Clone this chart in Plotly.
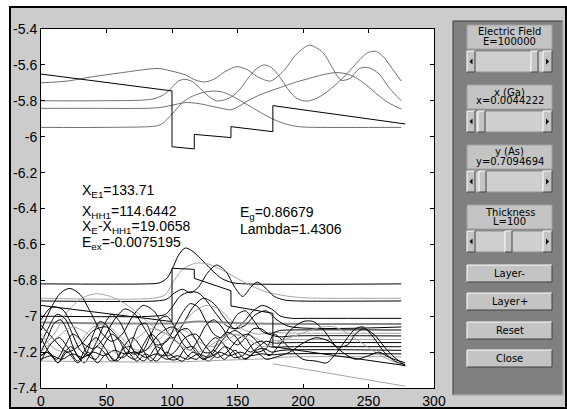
import plotly.graph_objects as go

# ---------------- data ----------------
x_ticks = [0, 50, 100, 150, 200, 250, 300]
x_tick_text = ["0", "50", "100", "150", "200", "250", "300"]
y_ticks = [-7.4, -7.2, -7.0, -6.8, -6.6, -6.4, -6.2, -6.0, -5.8, -5.6, -5.4]
y_tick_text = ["-7.4", "-7.2", "-7", "-6.8", "-6.6", "-6.4", "-6.2", "-6", "-5.8", "-5.6", "-5.4"]

# conduction band potential
cb_x = [0, 100, 100, 117, 117, 145, 145, 177, 177, 278]
cb_y = [-5.651, -5.745, -6.056, -6.068, -5.987, -6.005, -5.944, -5.972, -5.827, -5.929]

# electron wavefunctions (gray)
eA_x = [0, 20, 40, 60, 80, 90, 100, 110, 118, 125, 132, 140, 149, 157, 165, 175, 185, 195, 205, 215, 222, 229, 236, 243, 250, 258, 266, 275]
eA_y = [-5.70, -5.69, -5.665, -5.645, -5.625, -5.62, -5.635, -5.655, -5.685, -5.695, -5.68, -5.64, -5.61, -5.625, -5.665, -5.69, -5.635, -5.54, -5.49, -5.53, -5.61, -5.685, -5.675, -5.62, -5.615, -5.65, -5.73, -5.80]
eB_x = [0, 40, 80, 88, 95, 100, 105, 110, 116, 122, 128, 134, 140, 146, 152, 158, 164, 170, 176, 182, 188, 194, 200, 205, 212, 220, 228, 236, 244, 250, 256, 262, 268, 275]
eB_y = [-5.80, -5.80, -5.795, -5.785, -5.76, -5.725, -5.69, -5.68, -5.695, -5.735, -5.775, -5.80, -5.795, -5.775, -5.735, -5.675, -5.625, -5.60, -5.615, -5.665, -5.73, -5.78, -5.80, -5.80, -5.78, -5.74, -5.69, -5.63, -5.565, -5.53, -5.525, -5.56, -5.62, -5.69]
eC_x = [0, 40, 80, 90, 100, 110, 120, 130, 140, 145, 150, 158, 166, 175, 185, 195, 205, 215, 225, 232, 240, 248, 256, 265, 275]
eC_y = [-5.842, -5.842, -5.842, -5.838, -5.825, -5.81, -5.815, -5.83, -5.845, -5.85, -5.835, -5.80, -5.77, -5.745, -5.72, -5.695, -5.675, -5.655, -5.643, -5.648, -5.67, -5.71, -5.76, -5.81, -5.846]
eD_x = [0, 50, 88, 93, 98, 103, 108, 114, 120, 126, 132, 138, 144, 150, 156, 163, 170, 178, 185, 193, 200, 210, 275]
eD_y = [-5.948, -5.948, -5.94, -5.925, -5.89, -5.85, -5.81, -5.78, -5.762, -5.75, -5.746, -5.75, -5.767, -5.79, -5.815, -5.845, -5.875, -5.905, -5.925, -5.94, -5.946, -5.948, -5.948]

# valence band potentials
hh_x = [0, 100, 100, 117, 117, 145, 145, 177, 177, 278]
hh_y = [-6.94, -7.03, -6.733, -6.739, -6.789, -6.858, -6.943, -6.984, -7.17, -7.275]
lh_x = [177, 278]
lh_y = [-7.265, -7.39]

# hole wavefunctions
w1_x = [0, 80, 90, 96, 100, 105, 110, 115, 122, 130, 138, 146, 156, 275]
w1_y = [-6.82, -6.82, -6.815, -6.79, -6.74, -6.66, -6.62, -6.635, -6.68, -6.74, -6.79, -6.813, -6.82, -6.82]
w2_x = [0, 85, 95, 100, 108, 118, 128, 140, 155, 170, 185, 200, 215, 275]
w2_y = [-6.90, -6.90, -6.88, -6.82, -6.74, -6.705, -6.71, -6.75, -6.81, -6.86, -6.885, -6.897, -6.90, -6.90]
w3_x = [0, 88, 96, 102, 108, 114, 120, 127, 134, 141, 148, 154, 160, 165, 171, 178, 186, 195, 275]
w3_y = [-6.915, -6.915, -6.905, -6.87, -6.85, -6.87, -6.84, -6.76, -6.715, -6.75, -6.84, -6.89, -6.84, -6.81, -6.84, -6.89, -6.91, -6.915, -6.915]
w4_x = [0, 85, 95, 100, 106, 113, 120, 127, 134, 141, 148, 155, 162, 169, 176, 183, 192, 200, 275]
w4_y = [-7.0, -7.0, -6.99, -6.95, -6.89, -6.865, -6.87, -6.92, -6.99, -7.05, -7.07, -7.03, -6.97, -6.94, -6.96, -7.0, -7.012, -7.012, -7.012]
w5_x = [0, 100, 120, 140, 160, 275]
w5_y = [-7.035, -7.04, -7.03, -7.035, -7.04, -7.043]
w6_x = [0, 8, 15, 22, 30, 38, 46, 54, 62, 70, 78, 86, 94, 101, 108, 116, 124, 132, 140, 148, 156, 164, 172, 180, 190, 275]
w6_y = [-7.08, -6.95, -6.87, -6.845, -6.88, -6.98, -7.09, -7.14, -7.10, -7.0, -6.94, -6.97, -7.06, -7.12, -7.05, -6.95, -6.90, -6.93, -7.01, -7.07, -7.05, -6.99, -6.97, -7.02, -7.058, -7.06]
w7_x = [0, 10, 20, 31, 42, 53, 64, 75, 86, 97, 106, 116, 126, 136, 146, 156, 166, 176, 186, 198, 210, 275]
w7_y = [-7.18, -7.1, -6.975, -6.9, -6.875, -6.89, -6.93, -6.99, -7.06, -7.1, -7.06, -6.98, -6.94, -6.96, -7.03, -7.08, -7.10, -7.09, -7.093, -7.095, -7.095, -7.095]
w8_x = [0, 8, 16, 24, 32, 40, 48, 56, 64, 72, 80, 88, 96, 102, 108, 114, 120, 126, 132, 138, 144, 150, 156, 162, 168, 174, 182, 190, 275]
w8_y = [-7.02, -6.95, -6.96, -7.05, -7.15, -7.18, -7.12, -7.02, -6.96, -6.99, -7.08, -7.16, -7.14, -7.06, -6.98, -6.93, -6.95, -7.03, -7.1, -7.12, -7.06, -6.99, -6.97, -7.02, -7.08, -7.1, -7.08, -7.077, -7.077]
w9_x = [0, 6, 12, 18, 24, 30, 36, 42, 48, 54, 60, 66, 72, 78, 84, 90, 96, 102, 108, 114, 120, 126, 132, 138, 144, 150, 156, 162, 168, 174, 182, 192, 275]
w9_y = [-7.15, -7.06, -6.99, -7.01, -7.1, -7.19, -7.22, -7.15, -7.05, -6.99, -7.03, -7.12, -7.2, -7.19, -7.1, -7.02, -7.0, -7.06, -7.15, -7.19, -7.13, -7.05, -7.02, -7.06, -7.13, -7.16, -7.12, -7.07, -7.07, -7.1, -7.115, -7.11, -7.11]
w10_x = [0, 10, 20, 30, 40, 50, 60, 70, 80, 90, 100, 110, 120, 130, 140, 150, 160, 170, 180, 190, 200, 275]
w10_y = [-7.1, -7.18, -7.2, -7.14, -7.06, -7.05, -7.11, -7.18, -7.19, -7.13, -7.07, -7.08, -7.14, -7.17, -7.14, -7.1, -7.11, -7.14, -7.135, -7.13, -7.13, -7.13]
w11_x = [0, 5, 10, 15, 20, 25, 30, 35, 40, 45, 50, 55, 60, 65, 70, 75, 80, 85, 90, 95, 100, 106, 112, 118, 124, 130, 136, 142, 148, 154, 160, 166, 172, 178, 186, 195, 275]
w11_y = [-7.2, -7.12, -7.04, -7.02, -7.08, -7.18, -7.24, -7.2, -7.1, -7.03, -7.05, -7.14, -7.23, -7.22, -7.13, -7.05, -7.04, -7.12, -7.21, -7.22, -7.15, -7.08, -7.07, -7.13, -7.2, -7.2, -7.13, -7.09, -7.11, -7.17, -7.2, -7.17, -7.14, -7.15, -7.148, -7.147, -7.147]
w12_x = [0, 7, 14, 21, 28, 35, 42, 49, 56, 63, 70, 77, 84, 91, 98, 105, 112, 119, 126, 133, 140, 147, 154, 161, 168, 175, 182, 190, 275]
w12_y = [-7.25, -7.16, -7.12, -7.18, -7.25, -7.17, -7.12, -7.18, -7.25, -7.17, -7.12, -7.18, -7.25, -7.18, -7.12, -7.15, -7.22, -7.24, -7.17, -7.12, -7.16, -7.23, -7.22, -7.16, -7.14, -7.17, -7.172, -7.17, -7.17]
w13_x = [0, 4, 9, 13, 18, 23, 28, 33, 38, 43, 48, 53, 58, 63, 68, 73, 78, 83, 88, 93, 98, 104, 110, 116, 122, 128, 134, 140, 146, 152, 158, 164, 170, 176, 184, 275]
w13_y = [-7.22, -7.2, -7.23, -7.26, -7.2, -7.17, -7.22, -7.26, -7.21, -7.17, -7.2, -7.25, -7.24, -7.18, -7.17, -7.22, -7.25, -7.22, -7.17, -7.19, -7.24, -7.24, -7.18, -7.17, -7.22, -7.25, -7.21, -7.17, -7.19, -7.24, -7.23, -7.19, -7.18, -7.2, -7.19, -7.19]
w14_x = [0, 8, 16, 24, 32, 40, 48, 56, 64, 72, 80, 88, 96, 104, 112, 120, 128, 136, 144, 152, 160, 168, 176, 186, 275]
w14_y = [-7.24, -7.22, -7.24, -7.21, -7.23, -7.2, -7.22, -7.19, -7.21, -7.2, -7.23, -7.21, -7.24, -7.22, -7.24, -7.21, -7.23, -7.2, -7.22, -7.2, -7.22, -7.21, -7.215, -7.21, -7.21]
w15_x = [0, 100, 140, 177, 185, 275]
w15_y = [-7.25, -7.255, -7.245, -7.235, -7.228, -7.226]
r1_x = [0, 6, 12, 18, 24, 30, 36, 42, 48, 54, 60, 66, 72, 78, 84, 90, 96, 102, 110, 118, 126, 134, 142, 150, 158, 166, 174, 182, 190, 200, 208, 216, 226, 234, 240, 246, 254, 262, 270, 278]
r1_y = [-7.12, -7.2, -7.24, -7.17, -7.1, -7.13, -7.22, -7.24, -7.16, -7.1, -7.14, -7.22, -7.24, -7.16, -7.1, -7.14, -7.22, -7.2, -7.12, -7.1, -7.17, -7.23, -7.2, -7.13, -7.1, -7.15, -7.22, -7.16, -7.08, -7.03, -7.03, -7.08, -7.17, -7.16, -7.1, -7.07, -7.1, -7.17, -7.23, -7.275]
r2_x = [0, 10, 20, 30, 40, 50, 60, 70, 80, 90, 100, 108, 116, 124, 132, 140, 148, 156, 164, 172, 178, 190, 200, 210, 218, 226, 234, 240, 246, 254, 262, 270, 278]
r2_y = [-7.05, -7.13, -7.2, -7.16, -7.08, -7.06, -7.13, -7.21, -7.19, -7.1, -7.06, -7.1, -7.18, -7.24, -7.2, -7.12, -7.08, -7.12, -7.2, -7.18, -7.1, -7.18, -7.24, -7.25, -7.26, -7.2, -7.12, -7.07, -7.06, -7.12, -7.2, -7.25, -7.27]
r3_x = [0, 12, 24, 36, 48, 60, 72, 84, 96, 108, 120, 132, 144, 156, 168, 178, 190, 205, 215, 224, 235, 245, 255, 265, 278]
r3_y = [-7.2, -7.12, -7.06, -7.1, -7.18, -7.2, -7.13, -7.07, -7.1, -7.17, -7.2, -7.15, -7.1, -7.12, -7.17, -7.15, -7.12, -7.08, -7.06, -7.06, -7.1, -7.15, -7.2, -7.24, -7.28]
r4_x = [0, 6, 13, 20, 28, 36, 43, 50, 58, 66, 73, 80, 88, 96, 100, 108, 116, 124, 132, 140, 148, 156, 164, 172, 178, 190, 200, 210, 220, 230, 240, 250, 258, 266, 278]
r4_y = [-7.22, -7.2, -7.26, -7.2, -7.26, -7.2, -7.26, -7.21, -7.25, -7.2, -7.25, -7.21, -7.25, -7.2, -7.22, -7.25, -7.2, -7.24, -7.19, -7.24, -7.19, -7.24, -7.2, -7.24, -7.23, -7.2, -7.15, -7.12, -7.14, -7.2, -7.24, -7.22, -7.2, -7.23, -7.26]

hole_waves = [
    (w1_x, w1_y, "k"), (w2_x, w2_y, "g"), (w3_x, w3_y, "k"), (w4_x, w4_y, "k"),
    (w5_x, w5_y, "gt"), (w6_x, w6_y, "k"), (w7_x, w7_y, "g"), (w8_x, w8_y, "k"),
    (w9_x, w9_y, "k"), (w10_x, w10_y, "g"), (w11_x, w11_y, "k"), (w12_x, w12_y, "k"),
    (w13_x, w13_y, "k"), (w14_x, w14_y, "k"), (w15_x, w15_y, "g"), (r1_x, r1_y, "k"),
    (r2_x, r2_y, "k"), (r3_x, r3_y, "g"), (r4_x, r4_y, "k"),
]

info_lines = ["X<sub>E1</sub>=133.71", "X<sub>HH1</sub>=114.6442",
              "X<sub>E</sub>-X<sub>HH1</sub>=19.0658", "E<sub>ex</sub>=-0.0075195"]
info_right = ["E<sub>g</sub>=0.86679", "Lambda=1.4306"]
slider_titles = ["Electric Field", "x (Ga)", "y (As)", "Thickness"]
slider_values = ["E=100000", "x=0.0044222", "y=0.7094694", "L=100"]
button_labels = ["Layer-", "Layer+", "Reset", "Close"]

# ---------------- figure ----------------
W, H = 567, 409
L, R, T, B = 41, 434, 29, 388

def fx(px):
    return (px - L) / (R - L)

def fy(py):
    return 1 - (py - T) / (B - T)

BLACK = "#000000"
GRAY_E = "#6f6f6f"
GRAY_L = "#a6a6a6"

fig = go.Figure()

def add_line(x, y, color, width=1, spline=True):
    fig.add_trace(go.Scatter(
        x=x, y=y, mode="lines",
        line=dict(color=color, width=width, shape="spline" if spline else "linear", smoothing=0.8),
        hoverinfo="skip", showlegend=False))

for xs, ys in [(eA_x, eA_y), (eB_x, eB_y), (eC_x, eC_y), (eD_x, eD_y)]:
    add_line(xs, ys, GRAY_E, 1)
add_line(cb_x, cb_y, BLACK, 1, spline=False)

for xs, ys, c in hole_waves:
    if c == "k":
        add_line(xs, ys, BLACK, 1)
    elif c == "g":
        add_line(xs, ys, GRAY_L, 1)
    else:
        add_line(xs, ys, "#8a8a8a", 2)
add_line(hh_x, hh_y, BLACK, 1, spline=False)
add_line(lh_x, lh_y, GRAY_L, 1, spline=False)

shapes = []

def rect(x0, y0, x1, y1, fill=None, line=None, lw=1, layer="below"):
    shapes.append(dict(type="rect", xref="paper", yref="paper",
                       x0=fx(x0), x1=fx(x1), y0=fy(y1), y1=fy(y0),
                       fillcolor=fill if fill else "rgba(0,0,0,0)",
                       line=dict(color=line if line else "rgba(0,0,0,0)", width=lw if line else 0),
                       layer=layer))

def seg(x0, y0, x1, y1, color, lw=1, layer="below"):
    shapes.append(dict(type="line", xref="paper", yref="paper",
                       x0=fx(x0), x1=fx(x1), y0=fy(y0), y1=fy(y1),
                       line=dict(color=color, width=lw), layer=layer))

def bevel(x0, y0, x1, y1, fill="#c4c4c4"):
    rect(x0, y0, x1, y1, fill=fill)
    seg(x0, y0, x1, y0, "#ffffff")
    seg(x0, y0, x0, y1, "#ffffff")
    seg(x0, y1, x1, y1, "#404040")
    seg(x1, y0, x1, y1, "#404040")

def tri(cx, cy, direction):
    if direction < 0:
        path = f"M {fx(cx+1.5)} {fy(cy-3)} L {fx(cx-1.5)} {fy(cy)} L {fx(cx+1.5)} {fy(cy+3)} Z"
    else:
        path = f"M {fx(cx-1.5)} {fy(cy-3)} L {fx(cx+1.5)} {fy(cy)} L {fx(cx-1.5)} {fy(cy+3)} Z"
    shapes.append(dict(type="path", xref="paper", yref="paper", path=path,
                       fillcolor="#000000", line=dict(color="#000000", width=0), layer="above"))

# white outer margins and window frame
rect(0, 0, W, 7, fill="#ffffff")
rect(0, 0, 10, H, fill="#ffffff")
rect(10, 7, 566, 408, line="#000000", lw=2)

# control panel
rect(453, 21, 563, 395, fill="#808080", line="#3a3a3a", lw=1)
seg(563, 21, 563, 395, "#e0e0e0")
seg(453, 395, 563, 395, "#e0e0e0")

PANEL_FONT = dict(family="DejaVu Sans, Liberation Sans", size=10, color="#000000")
group_tops = [25, 85, 145, 205]
thumbs = [531, 478, 479, 505]
annotations = []
for i, top in enumerate(group_tops):
    rect(467, top, 552, top + 24, fill="#c4c4c4", line="#a0a0a0")
    s0, s1 = top + 26, top + 47
    rect(467, s0, 552, s1, fill="#cfcfcf", line="#909090")
    bevel(467, s0, 475, s1)
    bevel(543, s0, 552, s1)
    bevel(thumbs[i], s0, thumbs[i] + 7, s1)
    tri(471, (s0 + s1) / 2, -1)
    tri(547.5, (s0 + s1) / 2, 1)
    annotations.append(dict(x=fx(509.5), y=fy(top + 7), xref="paper", yref="paper",
                            text=slider_titles[i], showarrow=False, xanchor="center", yanchor="middle",
                            font=PANEL_FONT))
    annotations.append(dict(x=fx(509.5), y=fy(top + 16), xref="paper", yref="paper",
                            text=slider_values[i], showarrow=False, xanchor="center", yanchor="middle",
                            font=PANEL_FONT))

button_tops = [265, 293, 322, 350]
for i, top in enumerate(button_tops):
    bevel(467, top, 552, top + 17)
    annotations.append(dict(x=fx(509.5), y=fy(top + 8.5), xref="paper", yref="paper",
                            text=button_labels[i], showarrow=False, xanchor="center", yanchor="middle",
                            font=dict(family="DejaVu Sans, Liberation Sans", size=10, color="#000000")))

info_py = [191, 212, 227, 243]
for txt, py in zip(info_lines, info_py):
    annotations.append(dict(x=fx(80), y=fy(py), xref="paper", yref="paper", text=txt,
                            showarrow=False, xanchor="left", yanchor="middle",
                            font=dict(family="Liberation Sans, Arial", size=14, color="#000000")))
for txt, py in zip(info_right, [213, 229]):
    annotations.append(dict(x=fx(238), y=fy(py), xref="paper", yref="paper", text=txt,
                            showarrow=False, xanchor="left", yanchor="middle",
                            font=dict(family="Liberation Sans, Arial", size=14, color="#000000")))

axis_font = dict(family="Liberation Sans, Arial", size=14, color="#000000")
fig.update_layout(
    width=W, height=H,
    margin=dict(l=L, r=W - R, t=T, b=H - B, pad=0),
    paper_bgcolor="#cccccc", plot_bgcolor="#ffffff",
    shapes=shapes, annotations=annotations,
    xaxis=dict(range=[0, 300], tickvals=x_ticks, ticktext=x_tick_text, ticks="inside", ticklen=4,
               tickcolor="#000000", showline=True, linecolor="#000000", linewidth=1, mirror="ticks",
               showgrid=False, zeroline=False, tickfont=axis_font, fixedrange=True, automargin=False),
    yaxis=dict(range=[-7.4, -5.4], tickvals=y_ticks, ticktext=y_tick_text, ticks="inside", ticklen=4,
               tickcolor="#000000", showline=True, linecolor="#000000", linewidth=1, mirror="ticks",
               showgrid=False, zeroline=False, tickfont=axis_font, fixedrange=True, automargin=False),
    showlegend=False,
)

post = ("var d=document.getElementById('{plot_id}');"
        "document.documentElement.style.margin='0';document.documentElement.style.padding='0';"
        "document.documentElement.style.overflow='hidden';"
        "document.body.style.margin='0';document.body.style.padding='0';document.body.style.overflow='hidden';"
        "document.body.style.height='409px';document.documentElement.style.height='409px';"
        "d.style.position='fixed';d.style.left='0px';d.style.top='0px';")
fig.write_html("out.html", config={"displayModeBar": False}, post_script=post)
